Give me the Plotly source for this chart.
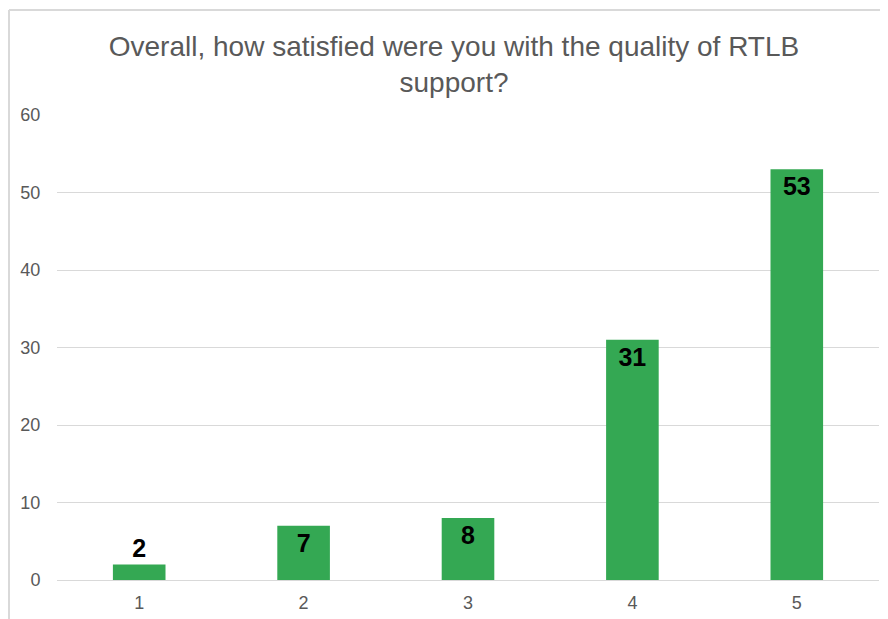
import plotly.graph_objects as go

categories = ["1", "2", "3", "4", "5"]
values = [2, 7, 8, 31, 53]
y_ticks = [0, 10, 20, 30, 40, 50, 60]

# page body has an 8px margin; size the figure to fit the window
OFF = 8
W, H = 888 - OFF, 619 - OFF
L, R, T, B = 57 - OFF, 9, 115 - OFF, 39
pw, ph = W - L - R, H - T - B

FONT = "Liberation Sans, Arial"

fig = go.Figure(go.Bar(
    x=categories, y=values,
    marker=dict(color="#34A853", line=dict(width=0)),
    text=[str(v) for v in values],
    textposition=["outside", "inside", "inside", "inside", "inside"],
    insidetextanchor="end",
    textfont=dict(family=FONT, size=25, color="black", weight="bold"),
    outsidetextfont=dict(family=FONT, size=25, color="black", weight="bold"),
    cliponaxis=False,
))

fig.update_layout(
    width=W, height=H,
    margin=dict(l=L, r=R, t=T, b=B, autoexpand=False),
    paper_bgcolor="white", plot_bgcolor="white",
    bargap=0.68,
    showlegend=False,
    uniformtext=dict(minsize=25, mode="show"),
    title=dict(
        text="Overall, how satisfied were you with the quality of RTLB<br>support?",
        font=dict(family=FONT, size=28, color="#595959"),
        x=(454 - OFF) / W, xref="container", xanchor="center",
        y=1 - (56 - OFF) / H, yref="container", yanchor="top",
    ),
    font=dict(family=FONT, color="#595959"),
)

fig.update_xaxes(
    type="category", showgrid=False, showline=False, zeroline=False,
    ticks="outside", ticklen=6, tickcolor="rgba(0,0,0,0)",
    tickfont=dict(size=18, color="#595959"),
)
fig.update_yaxes(
    range=[0, 60], tickvals=y_ticks, showgrid=True, gridcolor="#D9D9D9", gridwidth=1,
    zeroline=True, zerolinecolor="#D9D9D9", zerolinewidth=1, showline=False,
    ticks="outside", ticklen=12, tickcolor="rgba(0,0,0,0)",
    tickfont=dict(size=18, color="#595959"),
)

# chart-area border (top and left edges visible)
bx = (9 - OFF - L) / pw
by = 1 + (T - (10 - OFF)) / ph
fig.add_shape(type="line", xref="paper", yref="paper", x0=bx, x1=(W - L) / pw + 0.01,
              y0=by, y1=by, line=dict(color="#D9D9D9", width=2))
fig.add_shape(type="line", xref="paper", yref="paper", x0=bx, x1=bx,
              y0=by, y1=-B / ph - 0.01, line=dict(color="#D9D9D9", width=2))

fig.write_html("out.html")
